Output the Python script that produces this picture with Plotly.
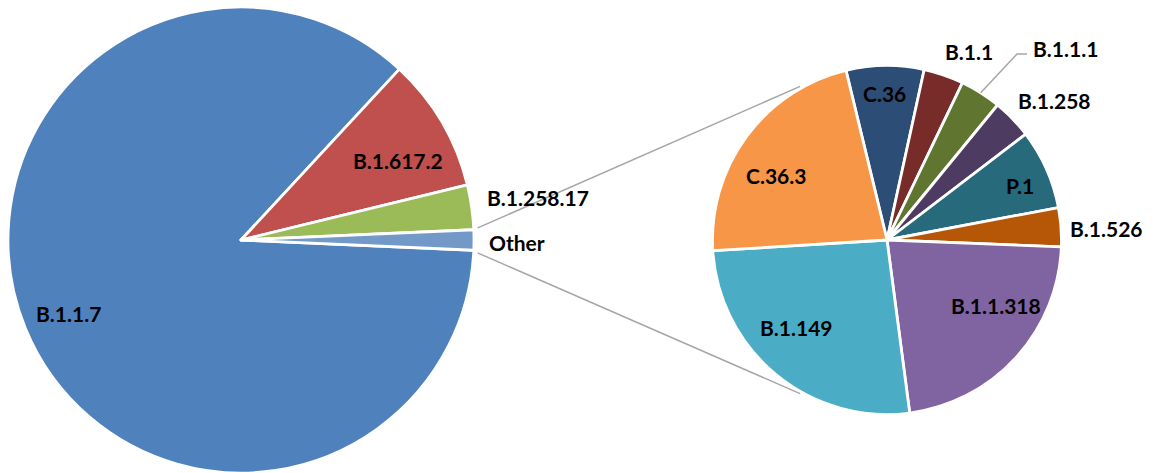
import math
import plotly.graph_objects as go

# ---- data ----
main_labels = ["B.1.1.7", "B.1.617.2", "B.1.258.17", "Other"]
main_values = [86.2, 9.3, 3.1, 1.4]
main_colors = ["#4F81BD", "#C0504D", "#9BBB59", "#7399C9"]

other_labels = ["C.36", "B.1.1", "B.1.1.1", "B.1.258", "P.1", "B.1.526",
                "B.1.1.318", "B.1.149", "C.36.3"]
other_values = [7.2, 3.7, 3.8, 3.7, 7.4, 3.6, 22.3, 26.1, 22.2]
other_colors = ["#2C4D75", "#772C2A", "#5F7530", "#4D3B62", "#276A7C",
                "#B65708", "#8064A2", "#4BACC6", "#F79646"]

# ---- layout / geometry (pixels) ----
W, H = 1155, 473
L_CX, L_CY, L_R = 241, 240, 233
R_CX, R_CY, R_R = 887, 240, 174.5
R_ROT = -13.6

# label centres (pixels) for each slice label
label_pos = {
    "B.1.1.7": (68, 313), "B.1.617.2": (398, 160), "B.1.258.17": (538, 197),
    "Other": (517, 242), "C.36": (884, 93), "B.1.1": (969, 51),
    "B.1.1.1": (1065, 49), "B.1.258": (1054, 101), "P.1": (1020, 185),
    "B.1.526": (1106, 229), "B.1.1.318": (996, 305), "B.1.149": (796, 327),
    "C.36.3": (776, 175),
}

def px(x):
    return x / W

def py(y):
    return 1 - y / H

other_share = main_values[-1] / sum(main_values) * 360
main_rot = 90 + other_share / 2

fig = go.Figure()
fig.add_trace(go.Pie(
    labels=main_labels, values=main_values, sort=False, direction="clockwise",
    rotation=main_rot, textinfo="none", hoverinfo="label+value",
    marker=dict(colors=main_colors, line=dict(color="white", width=2.8)),
    domain=dict(x=[px(L_CX - L_R), px(L_CX + L_R)], y=[py(L_CY + L_R), py(L_CY - L_R)]),
    showlegend=False,
))
fig.add_trace(go.Pie(
    labels=other_labels, values=other_values, sort=False, direction="clockwise",
    rotation=R_ROT, textinfo="none", hoverinfo="label+value",
    marker=dict(colors=other_colors, line=dict(color="white", width=2.8)),
    domain=dict(x=[px(R_CX - R_R), px(R_CX + R_R)], y=[py(R_CY + R_R), py(R_CY - R_R)]),
    showlegend=False,
))

def polar(cx, cy, r, ang):
    a = math.radians(ang)
    return cx + r * math.sin(a), cy - r * math.cos(a)

shapes = []
# connector lines between "Other" slice and the second pie
a_top = 90 - other_share / 2 - 0.4
a_bot = 90 + other_share / 2 + 0.6
for a_left, a_right in [(a_top, 270 + 60.5), (a_bot, 270 - 60.5)]:
    x0, y0 = polar(L_CX, L_CY, L_R + 4, a_left)
    x1, y1 = polar(R_CX, R_CY, R_R + 2, a_right)
    shapes.append(dict(type="line", xref="paper", yref="paper",
                       x0=px(x0), y0=py(y0), x1=px(x1), y1=py(y1),
                       line=dict(color="#A6A6A6", width=1.5)))

# leader line for B.1.1.1
tot = sum(other_values)
cum = 0
for lab, v in zip(other_labels, other_values):
    if lab == "B.1.1.1":
        mid = R_ROT + (cum + v / 2) / tot * 360
        sx, sy = polar(R_CX, R_CY, R_R, mid)
        path = f"M {px(sx)} {py(sy)} L {px(1017)} {py(54)} L {px(1027)} {py(54)}"
        shapes.append(dict(type="path", xref="paper", yref="paper", path=path,
                           line=dict(color="#A6A6A6", width=1.5)))
    cum += v

annotations = []
for lab in main_labels + other_labels:
    x, y = label_pos[lab]
    annotations.append(dict(
        x=px(x), y=py(y), xref="paper", yref="paper", text=lab, showarrow=False,
        xanchor="center", yanchor="middle",
        font=dict(family="Lato", size=21, color="black", weight="bold"),
    ))

fig.update_layout(
    width=W, height=H, margin=dict(l=0, r=0, t=0, b=0),
    paper_bgcolor="white", plot_bgcolor="white",
    shapes=shapes, annotations=annotations,
)
fig.write_html(
    "out.html",
    config={"displayModeBar": False},
    post_script="document.body.style.margin='0';document.body.style.overflow='hidden';",
)
